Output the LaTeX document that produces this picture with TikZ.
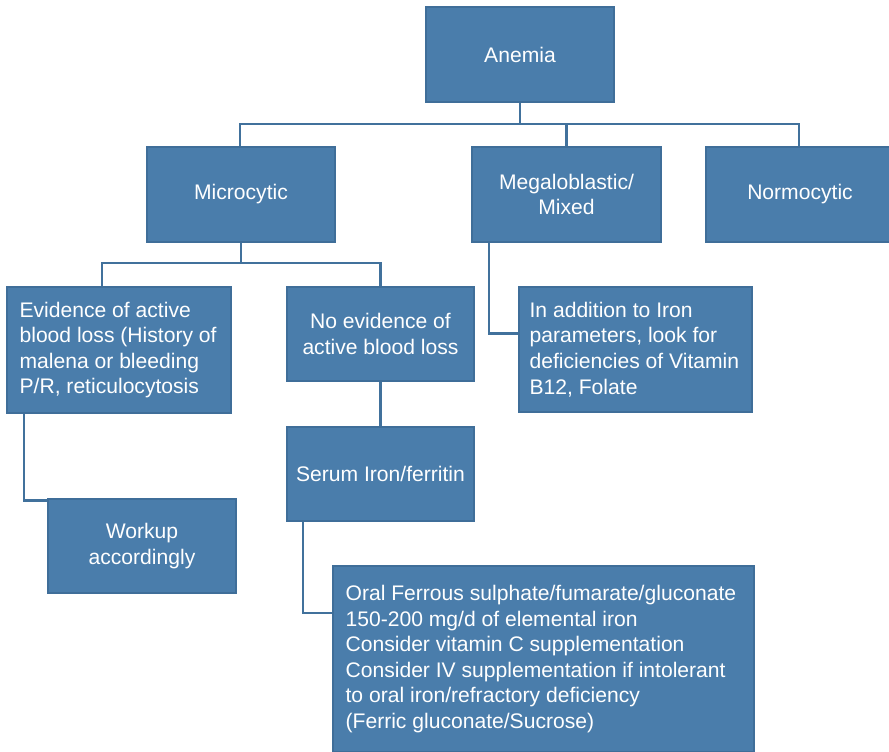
\documentclass[tikz,border=0pt]{standalone}
\usepackage{fontspec}
\setmainfont{Liberation Sans}
\definecolor{boxfill}{HTML}{4A7DAB}
\definecolor{boxline}{HTML}{3F6E99}
\definecolor{conn}{HTML}{41719C}
\begin{document}
\begin{tikzpicture}[x=1pt,y=-1pt,
  txt/.style={text=white,font=\fontsize{21.1}{25.6}\selectfont,inner sep=0pt},
  box/.style={txt,draw=boxline,line width=1.2pt,fill=boxfill,anchor=center},
  cbox/.style={box,align=center},
  ltext/.style={txt,align=left,anchor=west},
  link/.style={draw=conn,line width=2.6pt}]
\clip (0,0) rectangle (889,752);
\fill[white] (0,0) rectangle (889,752);
% nodes
\node[cbox,minimum width=188,minimum height=95] (anemia) at (520,54.5) {Anemia};
\node[cbox,minimum width=188,minimum height=95] (micro) at (241,194.5) {Microcytic};
\node[cbox,minimum width=189,minimum height=95] (mega) at (566.5,194.5) {Megaloblastic/\\Mixed};
\node[cbox,minimum width=188,minimum height=95] (normo) at (800,194.5) {Normocytic};
\node[box,minimum width=224,minimum height=126] (evid) at (119,350) {};
\node[ltext] (evidT) at ([xshift=13]evid.west)
  {Evidence of active\\blood loss (History of\\malena or bleeding\\P/R, reticulocytosis};
\node[cbox,minimum width=187,minimum height=94] (noev) at (380.5,334) {No evidence of\\active blood loss};
\node[box,minimum width=233,minimum height=125] (addn) at (635.5,349.5) {};
\node[ltext] (addnT) at ([xshift=11]addn.west)
  {In addition to Iron\\parameters, look for\\deficiencies of Vitamin\\B12, Folate};
\node[cbox,minimum width=187,minimum height=94] (serum) at (380.5,474) {Serum Iron/ferritin};
\node[cbox,minimum width=188,minimum height=94] (workup) at (142,546) {Workup\\accordingly};
\node[box,minimum width=421,minimum height=186] (oral) at (543.5,659) {};
\node[ltext] (oralT) at ([xshift=13]oral.west)
  {Oral Ferrous sulphate/fumarate/gluconate\\150-200 mg/d of elemental iron\\Consider vitamin C supplementation\\Consider IV supplementation if intolerant\\to oral iron/refractory deficiency\\(Ferric gluconate/Sucrose)};
% bus coordinates
\coordinate (b1) at (520,124);
\coordinate (b2) at (241,263);
% connectors
\draw[link] (anemia.south) -- (b1);
\draw[link] ([xshift=-1]micro.north) |- (b1) -| ([xshift=-1]normo.north);
\draw[link] (mega.north) -- (mega.north |- b1);
\draw[link] (micro.south) -- (b2);
\draw[link] ([xshift=-17]evid.north) |- (b2) -| (noev.north);
\draw[link] (noev.south) -- (serum.north);
\draw[link] ([xshift=-95]evid.south) |- ([yshift=-2]workup.north west);
\draw[link] ([xshift=-77.5]mega.south) |- ([yshift=16]addn.west);
\draw[link] ([xshift=-77.5]serum.south) |- ([yshift=46]oral.west);
\end{tikzpicture}
\end{document}
